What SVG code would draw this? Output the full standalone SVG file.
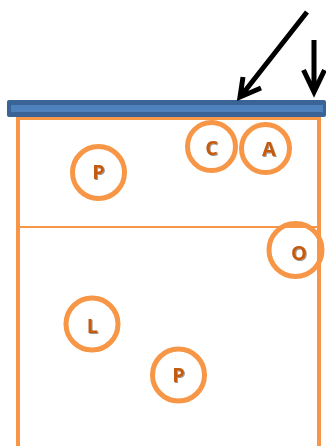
<svg xmlns="http://www.w3.org/2000/svg" width="326" height="446" viewBox="0 0 326 446">
<style>
.ring{fill:none;stroke:#f79646;stroke-width:5}
.lbl{font-family:"Open Sans","Liberation Sans",sans-serif;font-weight:bold;font-size:20px;fill:#c55a11;text-anchor:middle}
.court{fill:none;stroke:#f79646;stroke-width:4}
.arr{stroke:#000;stroke-width:5;fill:none;stroke-linecap:butt;stroke-linejoin:miter}
</style>
<defs>
<filter id="sh" x="-20%" y="-20%" width="140%" height="140%"><feDropShadow dx="1" dy="1" stdDeviation="0.6" flood-color="#000" flood-opacity="0.4"/></filter>
</defs>
<g id="court">
<rect class="court" x="18" y="118" width="301" height="340"/>
<line x1="18" y1="227" x2="319" y2="227" stroke="#f79646" stroke-width="2"/>
</g>
<g id="net">
<rect x="7" y="100" width="319" height="17" rx="2" fill="#3b6496"/>
<rect x="11" y="105" width="312" height="7" fill="#4f81bd"/>
</g>
<g id="connectors">
<path class="arr" d="M307,12 L241,96 M243,77 L240,97 L261,88"/>
<path class="arr" d="M314,40 L314,91 M303.5,70 L314,92 L324.5,70"/>
</g>
<g id="nodeC"><circle class="ring" cx="211.5" cy="146.5" r="24"/><text class="lbl" x="211.5" y="155" filter="url(#sh)">C</text></g>
<g id="nodeA"><circle class="ring" cx="265.5" cy="148.5" r="24"/><text class="lbl" x="269" y="156" filter="url(#sh)">A</text></g>
<g id="nodeP1"><circle class="ring" cx="98.5" cy="172.5" r="26"/><text class="lbl" x="98.5" y="179" filter="url(#sh)">P</text></g>
<g id="nodeO"><circle class="ring" cx="295.5" cy="250" r="26.5"/><text class="lbl" x="299" y="260" filter="url(#sh)">O</text></g>
<g id="nodeL"><circle class="ring" cx="92" cy="324" r="26"/><text class="lbl" x="92.5" y="333" filter="url(#sh)">L</text></g>
<g id="nodeP2"><circle class="ring" cx="178.5" cy="375" r="26"/><text class="lbl" x="178.5" y="381.5" filter="url(#sh)">P</text></g>
</svg>
